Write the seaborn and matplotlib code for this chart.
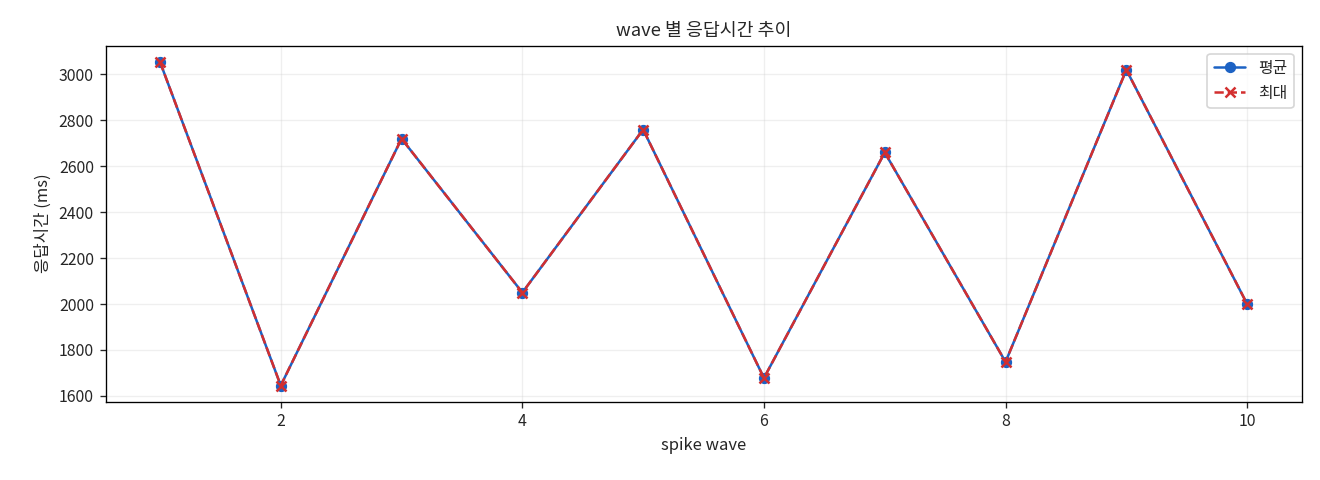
import matplotlib
matplotlib.use("Agg")
import matplotlib.pyplot as plt
import seaborn as sns
import pandas as pd

waves = [1, 2, 3, 4, 5, 6, 7, 8, 9, 10]
avg_ms = [3055, 1645, 2720, 2050, 2760, 1678, 2660, 1748, 3020, 2000]
max_ms = [3055, 1645, 2720, 2050, 2760, 1678, 2660, 1748, 3020, 2000]

sns.set_style("white")
plt.rcParams['font.family'] = ['Noto Sans CJK KR', 'DejaVu Sans']
plt.rcParams['axes.unicode_minus'] = False

df = pd.DataFrame({"wave": waves, "avg": avg_ms, "max": max_ms})
fig, ax = plt.subplots(figsize=(11, 4), dpi=120)
sns.lineplot(data=df, x="wave", y="avg", ax=ax, color="#1c62c4", marker="o",
             markersize=6, markeredgecolor="#1c62c4", linewidth=1.5)
sns.lineplot(data=df, x="wave", y="max", ax=ax, color="#d32f2f", marker="x",
             markersize=6, markeredgecolor="#d32f2f", markeredgewidth=1.5,
             linewidth=1.5)
lines = ax.get_lines()
lines[1].set_linestyle("--")
ax.grid(True, alpha=0.3)
for s in ax.spines.values():
    s.set_color("black"); s.set_linewidth(0.8)
ax.tick_params(left=True, bottom=True, length=3.5, labelsize=9.5)
ax.set_title("wave 별 응답시간 추이", fontsize=11)
ax.set_xlabel("spike wave", fontsize=10)
ax.set_ylabel("응답시간 (ms)", fontsize=10)
ax.legend(lines[:2], ["평균", "최대"], loc="upper right", fontsize=9.5)
fig.subplots_adjust(left=0.08, right=0.986, top=0.905, bottom=0.163)
fig.savefig("out.png", dpi=120)
